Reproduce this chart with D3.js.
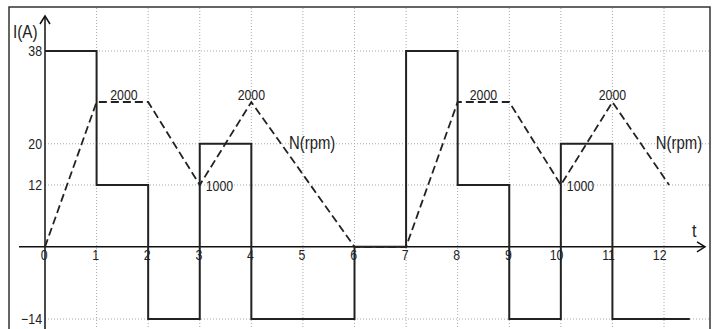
<!DOCTYPE html>
<html><head><meta charset="utf-8">
<script src="https://cdn.jsdelivr.net/npm/d3@7"></script>
<style>
html,body{margin:0;padding:0;background:#fff;}
svg{display:block;}
text{font-family:"Liberation Sans",Arial,sans-serif;fill:#222;}
</style></head>
<body>
<script>
// ---- data ----
const xTicks = [0,1,2,3,4,5,6,7,8,9,10,11,12];
const yTicks = [38,20,12,-14];
// current I(A): step points [t, I]
const currentT = [0,1,1,2,2,3,3,4,4,6,6,7,7,8,8,9,9,10,10,11,11,12.5];
const currentI = [38,38,12,12,-14,-14,20,20,-14,-14,0,0,38,38,12,12,-14,-14,20,20,-14,-14];
// speed N(rpm)
const speedT = [0,1,2,3,4,6,7,8,9,10,11,12.1];
const speedN = [0,2000,2000,1000,2000,0,0,2000,2000,1000,2000,1000];
// speed value labels [t, text, N]
const speedLabels = [[1.53,"2000",2000],[4,"2000",2000],[8.5,"2000",2000],[11,"2000",2000],[3,"1000",1000],[10,"1000",1000]];
const nLabels = [[5.18,"N(rpm)",1430],[12.29,"N(rpm)",1430]];

const W=715,H=329;
const svg=d3.select("body").append("svg").attr("width",W).attr("height",H);

const x=d3.scaleLinear().domain([0,12]).range([45,664]);
const y=d3.scaleLinear().domain([-14,38]).range([319,51]);
const n=d3.scaleLinear().domain([0,1000,2000]).range([y(0),y(12),y(28.1)]);

// frame
svg.append("rect").attr("x",9).attr("y",7).attr("width",701).attr("height",340)
  .attr("fill","none").attr("stroke","#333").attr("stroke-width",1.5);

// grid
const g=svg.append("g");
g.selectAll("line.v").data(xTicks.filter(d=>d>0)).join("line")
  .attr("x1",d=>x(d)).attr("x2",d=>x(d)).attr("y1",8).attr("y2",H)
  .attr("stroke","#aaa").attr("stroke-width",1).attr("stroke-dasharray","1,2");
g.selectAll("line.h").data(yTicks).join("line")
  .attr("x1",x(0)).attr("x2",709).attr("y1",d=>y(d)).attr("y2",d=>y(d))
  .attr("stroke","#aaa").attr("stroke-width",1).attr("stroke-dasharray","1,2");

// axes lines
svg.append("line").attr("x1",19).attr("x2",705).attr("y1",y(0)).attr("y2",y(0)).attr("stroke","#111").attr("stroke-width",1.5);
svg.append("path").attr("d",`M${697},${y(0)-5}L705,${y(0)}L${697},${y(0)+5}`).attr("fill","none").attr("stroke","#111").attr("stroke-width",1.5);
svg.append("line").attr("x1",x(0)).attr("x2",x(0)).attr("y1",H).attr("y2",16).attr("stroke","#111").attr("stroke-width",1.5);
svg.append("path").attr("d",`M${x(0)-5},24L${x(0)},16L${x(0)+5},24`).attr("fill","none").attr("stroke","#111").attr("stroke-width",1.5);

// tick labels via axes
const xa=svg.append("g").attr("transform",`translate(0,${y(0)})`)
  .call(d3.axisBottom(x).tickValues(xTicks).tickSize(0).tickPadding(3).tickFormat(d3.format("d")));
xa.select(".domain").remove();
xa.selectAll("text").attr("text-anchor","end").attr("x",2).style("font-size","14.5px");
const ya=svg.append("g").attr("transform",`translate(${x(0)},0)`)
  .call(d3.axisLeft(y).tickValues(yTicks).tickSize(0).tickPadding(3));
ya.select(".domain").remove();
ya.selectAll("text").style("font-size","14.5px");
svg.selectAll(".tick text").attr("fill","#222");
svg.selectAll("g").attr("font-family",null);

// axis titles
svg.append("text").attr("x",13).attr("y",38).style("font-size","18px").text("I(A)");
svg.append("text").attr("x",692).attr("y",237).style("font-size","19px").text("t");

// current line
const cur=currentT.map((t,i)=>[t,currentI[i]]);
svg.append("path").datum(cur).attr("fill","none").attr("stroke","#222").attr("stroke-width",2)
  .attr("d",d3.line().x(d=>x(d[0])).y(d=>y(d[1])));

// speed line
const sp=speedT.map((t,i)=>[t,speedN[i]]);
svg.append("path").datum(sp).attr("fill","none").attr("stroke","#222").attr("stroke-width",1.8)
  .attr("stroke-dasharray","8,4")
  .attr("d",d3.line().x(d=>x(d[0])).y(d=>n(d[1])));

// labels
svg.selectAll("text.sl").data(speedLabels).join("text").attr("class","sl")
  .attr("x",d=>d[2]===2000?x(d[0]):x(d[0])+6)
  .attr("y",d=>d[2]===2000?n(d[2])-2:n(d[2])+6)
  .attr("text-anchor",d=>d[2]===2000?"middle":"start")
  .style("font-size","14.5px").text(d=>d[1]);
svg.selectAll("text.nl").data(nLabels).join("text").attr("class","nl")
  .attr("x",d=>x(d[0])).attr("y",d=>n(d[2]))
  .attr("text-anchor","middle").style("font-size","17.5px").text(d=>d[1]);

// condensed look: horizontally compress every text around its anchor point
svg.selectAll("text").each(function(){
  const t=d3.select(this);
  const tx=+(t.attr("x")||0), ty=+(t.attr("y")||0);
  t.attr("x",0).attr("y",0).attr("transform",`translate(${tx},${ty}) scale(0.85,1)`);
});
</script>
</body></html>
